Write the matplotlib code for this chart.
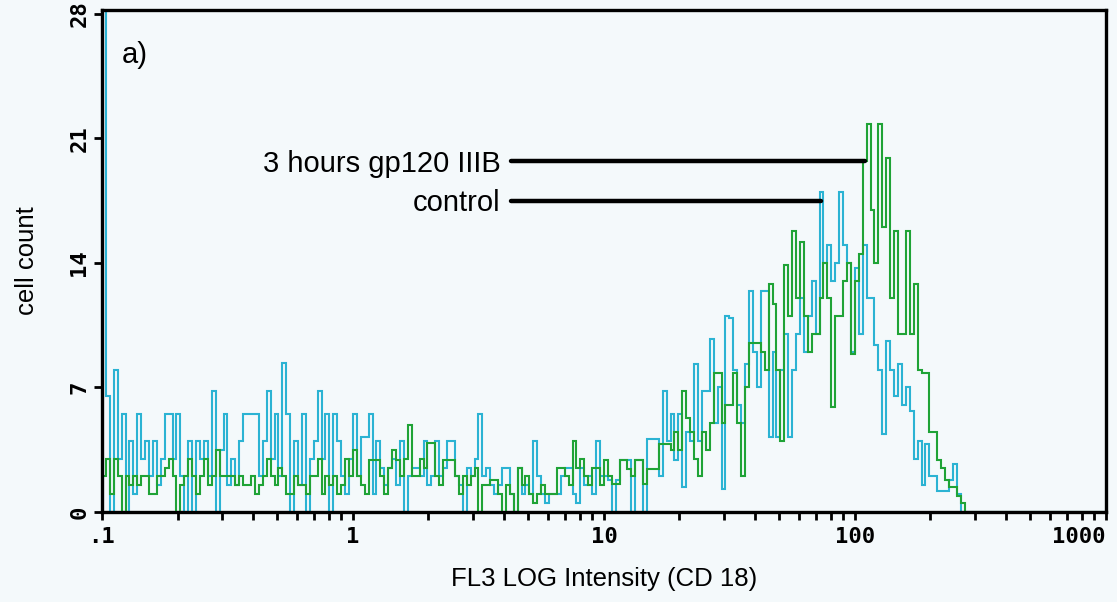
import numpy as np
import matplotlib
matplotlib.use("Agg")
import matplotlib.pyplot as plt
from matplotlib.ticker import FixedLocator, LogLocator, NullFormatter

# 256 log channels from 0.1 to 1000, counts
n_channels = 256
log_range = (-1, 3)

control_counts = [
    40, 6.5, 0, 8, 3, 5.5, 0, 4, 1, 5.5, 3, 4, 2, 4, 1.5, 3,
    5.5, 5.5, 3, 5.5, 2, 0, 4, 0, 4, 3, 4, 2, 6.8, 0, 3.5, 5.5,
    1.5, 3, 1.5, 4, 5.5, 5.5, 5.5, 5.5, 2, 4, 6.8, 3, 5.5, 2, 8.4, 5.5,
    0, 4, 1.5, 5.5, 0, 3, 4, 6.8, 3, 5.5, 0, 5.5, 4, 2, 1, 3,
    5.5, 2, 4.2, 4.2, 5.5, 1, 4, 2.5, 1.5, 2.5, 3, 1.5, 4, 0, 2, 2.5,
    2.5, 2, 4, 1.5, 2, 4, 2, 2.5, 4, 4, 2, 1.5, 0, 2.5, 2, 3,
    5.5, 2, 2.5, 1.5, 1, 1.5, 2.5, 2.5, 1, 0, 2.5, 1, 1.5, 1, 4, 2,
    1, 0.5, 1, 1, 1, 2, 2.5, 2.5, 1, 0.5, 2.5, 1.5, 2, 1, 4, 2,
    2, 1.8, 0, 1.8, 2.9, 2.9, 2.9, 0, 2.9, 2.9, 0, 4.1, 4.1, 4.1, 2, 6.8,
    4, 5.5, 2.9, 5.5, 1.4, 4.5, 4, 8.3, 4, 6.8, 6.8, 9.7, 5, 7, 1.3, 11,
    10.9, 8, 6, 5, 8.3, 12.4, 9, 7, 12.4, 12.4, 4.2, 9, 4.2, 8, 10, 4.2,
    8, 10, 12, 9, 11, 13, 10, 18, 14, 15, 13, 14, 18, 15, 14, 9,
    13.7, 10, 15, 12, 12, 9.4, 8, 4.4, 9.6, 8, 6.5, 8.3, 6, 7, 5.7, 3,
    4, 1.5, 3.8, 2, 2, 1.2, 1.2, 1.2, 1.8, 2.7, 1, 0, 0, 0, 0, 0,
    0, 0, 0, 0, 0, 0, 0, 0, 0, 0, 0, 0, 0, 0, 0, 0,
    0, 0, 0, 0, 0, 0, 0, 0, 0, 0, 0, 0, 0, 0, 0, 0,
]

gp120_counts = [
    2, 3, 1, 3, 2, 0, 2, 1.5, 2, 1.5, 2, 2, 1, 1, 2, 2,
    2.5, 3, 2, 0, 1.5, 2, 3, 2, 1, 2, 3, 1.5, 2, 3.5, 2, 2,
    2, 2, 1.5, 2, 1.5, 1.5, 2, 1, 1.5, 2, 3, 2, 1.5, 2.5, 2, 1,
    1, 2, 1.5, 1.5, 1, 2, 2, 3, 1, 2, 1.5, 2, 1, 1.5, 3, 2,
    3.5, 2, 1.5, 1, 2.9, 2.9, 2.9, 2, 1, 2.5, 3.5, 2.9, 2, 3, 4.9, 2,
    2, 3, 2.5, 3.9, 3.9, 2, 1.5, 2.9, 2.9, 2.9, 2, 1, 2, 1.5, 2, 2.5,
    0, 1.5, 1.5, 1.8, 1.8, 1, 0, 1.5, 1, 0, 2.5, 1.5, 2, 1, 0.5, 1,
    1.5, 1, 1, 1, 2.5, 2.5, 2, 1.5, 4, 2.5, 3, 2, 1.5, 2.5, 2.5, 1.5,
    2.9, 2, 1.6, 1.6, 2.9, 2.9, 2.4, 2, 2.9, 2.9, 1.6, 2.4, 2.4, 2.4, 3.8, 3.8,
    3.8, 3.5, 4.5, 3.5, 6.8, 5.3, 4.5, 3, 2, 4.5, 3.5, 5, 7.8, 7.8, 5, 6,
    6, 7.8, 5, 2, 7, 9.5, 9.5, 9.5, 9, 8, 12.8, 11.7, 8, 4, 13.9, 11,
    15.8, 12, 15.2, 11, 9, 10, 10, 12, 14, 12, 5.9, 11, 11, 13, 14, 8.9,
    13, 14.5, 19.7, 21.8, 17, 14, 21.8, 16, 19.9, 12, 15.8, 10, 10, 15.8, 10, 12.8,
    8, 7.8, 7.8, 4.5, 4.5, 2.9, 2.5, 1.8, 1.4, 1.4, 0.9, 0.5, 0, 0, 0, 0,
    0, 0, 0, 0, 0, 0, 0, 0, 0, 0, 0, 0, 0, 0, 0, 0,
    0, 0, 0, 0, 0, 0, 0, 0, 0, 0, 0, 0, 0, 0, 0, 0,
]

y_ticks = [0, 7, 14, 21, 28]
y_tick_labels = ["0", "7", "14", "21", "28"]
x_ticks = [0.1, 1, 10, 100, 1000]
x_tick_labels = [".1", "1", "10", "100", "1000"]

# label lines: (text, x end of the line, y level)
labels = [("3 hours gp120 IIIB", 110, 19.7), ("control", 73, 17.5)]
label_line_start = 4.25

bg = "#f4f9fb"
cyan = "#2bb3d3"
green = "#1fa336"

edges = np.logspace(log_range[0], log_range[1], n_channels + 1)

fig = plt.figure(figsize=(11.17, 6.02), dpi=100, facecolor=bg)
ax = fig.add_axes([0.0913, 0.1495, 0.8987, 0.8335], facecolor=bg)

ax.stairs(control_counts, edges, color=cyan, linewidth=1.5)
ax.stairs(gp120_counts, edges, color=green, linewidth=1.5)

ax.set_xscale("log")
ax.set_xlim(0.1, 1000)
ax.set_ylim(0, 28.2)

for side in ["left", "bottom", "top", "right"]:
    ax.spines[side].set_linewidth(2.4)
    ax.spines[side].set_color("black")
    ax.spines[side].set_zorder(5)

tick_font = {"family": "DejaVu Sans Mono", "weight": "bold", "size": 16}
ax.xaxis.set_major_locator(FixedLocator(x_ticks))
ax.set_xticklabels(x_tick_labels, fontdict=tick_font)
ax.get_xticklabels()[-1].set_horizontalalignment("right")
ax.xaxis.set_minor_locator(LogLocator(base=10, subs=np.arange(2, 10)))
ax.xaxis.set_minor_formatter(NullFormatter())
ax.tick_params(axis="x", which="both", direction="out", length=6, width=2, pad=5)

ax.set_yticks(y_ticks)
ax.set_yticklabels(y_tick_labels, fontdict=tick_font, rotation=90, va="center")
ax.tick_params(axis="y", which="major", direction="out", length=6, width=2, pad=3)

label_font = {"family": "Liberation Sans", "size": 18.5}
ax.set_xlabel("FL3 LOG Intensity (CD 18)", fontdict=label_font, labelpad=14)
ax.set_ylabel("cell count", fontdict=label_font, labelpad=22)

ax.text(0.12, 25.7, "a)", fontsize=21, family="Liberation Sans", va="center")

for text, x_end, y in labels:
    ax.plot([label_line_start, x_end], [y, y], color="black", linewidth=3.2,
            solid_capstyle="round", zorder=6)
    ax.text(label_line_start * 0.91, y - 0.15, text, fontsize=21,
            family="Liberation Sans", ha="right", va="center")

fig.savefig("out.png", dpi=100, facecolor=bg)
